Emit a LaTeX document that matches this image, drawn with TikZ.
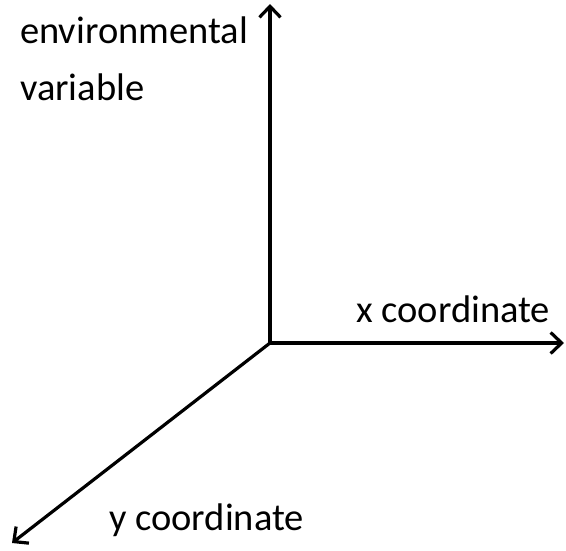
\documentclass[tikz,border=0pt]{standalone}
\usepackage{fontspec}
\setmainfont{Carlito}
\usetikzlibrary{arrows.meta}
\begin{document}
\begin{tikzpicture}[x=1pt,y=-1pt,
  axis/.style={line width=3.2pt,-{Straight Barb[length=11pt,width=21pt,line width=3.2pt]}},
  axlabel/.style={anchor=base west,inner sep=0pt,font=\fontsize{38.5}{46}\selectfont}]
  \useasboundingbox (0,0) rectangle (566,550);
  \coordinate (o) at (270,343);
  \coordinate (up) at (270,4);
  \coordinate (right) at (564,343);
  \coordinate (diag) at (12,543);
  \draw[axis] (o) -- (up);
  \draw[axis] (o) -- (right);
  \draw[axis] (o) -- (diag);
  \node[axlabel] (env) at (20,43) {environmental};
  \node[axlabel] (var) at (20,100) {variable};
  \node[axlabel] (xl) at (356,322) {x coordinate};
  \node[axlabel] (yl) at (109,530) {y coordinate};
\end{tikzpicture}
\end{document}
